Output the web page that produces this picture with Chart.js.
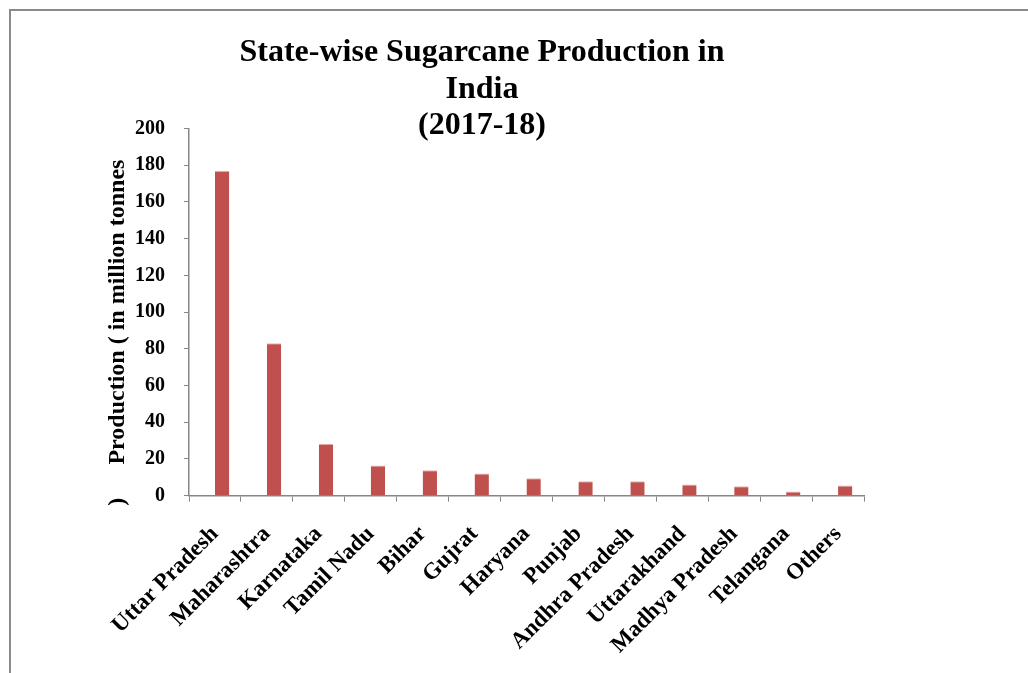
<!DOCTYPE html>
<html>
<head>
<meta charset="utf-8">
<script src="https://cdn.jsdelivr.net/npm/chart.js@4.4.1/dist/chart.umd.min.js"></script>
<style>
  html, body { margin: 0; padding: 0; background: #fff; }
  #frame {
    position: absolute; left: 9px; top: 9px; width: 1019px; height: 664px;
    border-top: 2px solid #8a8a8a; border-left: 2px solid #8a8a8a;
  }
  #wrap { position: absolute; left: 0; top: 0; width: 1028px; height: 673px; }
</style>
</head>
<body>
<div id="frame"></div>
<div id="wrap"><canvas id="myChart"></canvas></div>
<script>
// estados e producao (milhoes de toneladas), 2017-18
const states = ['Uttar Pradesh', 'Maharashtra', 'Karnataka', 'Tamil Nadu', 'Bihar', 'Gujrat',
  'Haryana', 'Punjab', 'Andhra Pradesh', 'Uttarakhand', 'Madhya Pradesh', 'Telangana', 'Others'];
const production = [177, 83, 28.3, 16.4, 13.8, 12.1, 9.5, 7.9, 7.9, 6.1, 5.1, 2.2, 5.6];
// serie vazia do excel (ocupa o primeiro lugar de cada grupo)
const emptySeries = [null, null, null, null, null, null, null, null, null, null, null, null, null];
const titleLines = ['State-wise Sugarcane Production in', 'India', '(2017-18)'];
const yTitle = 'Production ( in million tonnes';

const serif = "'Liberation Serif', 'Times New Roman', serif";
const axisGray = '#868686';

// o ")" que sobrou do titulo do eixo
const closeParen = {
  id: 'closeParen',
  afterDraw(chart) {
    const ctx = chart.ctx;
    const y = chart.scales.y;
    ctx.save();
    ctx.translate(y.left + 18, chart.chartArea.bottom + 6);
    ctx.rotate(-Math.PI / 2);
    ctx.font = 'bold 24px ' + serif;
    ctx.fillStyle = '#000';
    ctx.textAlign = 'center';
    ctx.textBaseline = 'middle';
    ctx.fillText(')', 0, 0);
    ctx.restore();
  }
};

const data = {
  labels: states,
  datasets: [
    { label: 'Series1', data: emptySeries, backgroundColor: '#4F81BD' },
    { label: 'Production', data: production, backgroundColor: '#C0504D',
      borderColor: '#E8B4B2', borderWidth: { top: 1, left: 0, right: 0, bottom: 0 } }
  ]
};

const options = {
  responsive: true,
  maintainAspectRatio: false,
  animation: false,
  layout: { padding: { left: 100, right: 164, top: 10, bottom: -5 } },
  datasets: { bar: { categoryPercentage: 0.552, barPercentage: 1.0 } },
  plugins: {
    legend: { display: false },
    tooltip: { enabled: false },
    title: {
      display: true,
      text: titleLines,
      color: '#000',
      font: { family: serif, size: 32, weight: 'bold', lineHeight: 1.13 },
      padding: { top: 25, bottom: -15 }
    }
  },
  scales: {
    x: {
      grid: { offset: true, drawOnChartArea: false, tickLength: 6, color: axisGray },
      border: { color: axisGray, width: 1.5 },
      ticks: {
        minRotation: 45, maxRotation: 45, padding: 19, autoSkip: false,
        color: '#000', font: { family: serif, size: 23, weight: 'bold' }
      },
      // os rotulos giram p/ esquerda, nao precisa reservar espaco
      afterFit: (scale) => { scale.paddingLeft = 0; }
    },
    y: {
      min: 0, max: 200,
      grid: { drawOnChartArea: false, tickLength: 5, color: axisGray },
      border: { color: axisGray, width: 1.5 },
      ticks: {
        stepSize: 20, padding: 19,
        color: '#000', font: { family: serif, size: 20, weight: 'bold' }
      },
      title: {
        display: true, text: yTitle, color: '#000',
        padding: { top: 3, bottom: 3 },
        font: { family: serif, size: 24, weight: 'bold', lineHeight: 1.2 }
      },
      // largura fixa do eixo (o chart.js conta o padding 2x)
      afterFit: (scale) => { scale.width = 89; }
    }
  }
};

const config = { type: 'bar', data: data, options: options, plugins: [closeParen] };
const myChart = new Chart(document.getElementById('myChart'), config);
</script>
</body>
</html>
